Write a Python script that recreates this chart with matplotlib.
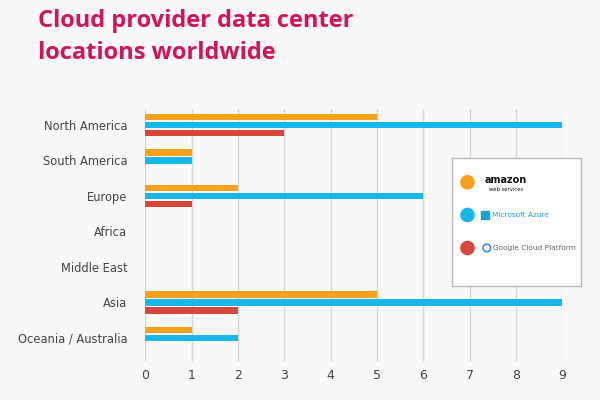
import matplotlib.pyplot as plt
import numpy as np

regions = ["North America", "South America", "Europe", "Africa",
           "Middle East", "Asia", "Oceania / Australia"]
aws = [5, 1, 2, 0, 0, 5, 1]
azure = [9, 1, 6, 0, 0, 9, 2]
google = [3, 0, 1, 0, 0, 2, 0]
colors = ["#f7a11a", "#17b7ea", "#d8473b"]

bg = "#f8f8f8"
fig = plt.figure(figsize=(6, 4), dpi=100, facecolor=bg)
ax = fig.add_axes([0.242, 0.0975, 0.695, 0.63], facecolor=bg)

y = np.arange(len(regions))
off = 0.225
h = 0.19
for i, vals in enumerate([aws, azure, google]):
    ax.barh(y + (i - 1) * off, vals, height=h, color=colors[i], zorder=3)

ax.set_xlim(0, 9)
ax.set_ylim(6.65, -0.45)
ax.set_xticks(range(10))
ax.set_yticks(y)
ax.set_yticklabels(regions)
ax.tick_params(length=0, labelsize=9, labelcolor="#444444")
ax.tick_params(axis="y", pad=13, labelsize=8.3)
ax.tick_params(axis="x", pad=6)
ax.grid(axis="x", color="#d6d6d6", linewidth=1, zorder=0)
for s in ax.spines.values():
    s.set_visible(False)

fig.text(0.063, 0.978, "Cloud provider data center\nlocations worldwide",
         color="#d4145a", fontsize=17, fontweight="bold", family="Open Sans",
         va="top", linespacing=1.45)

# legend box with provider "logos"
lg = fig.add_axes([452 / 600, 1 - 286 / 400, 129 / 600, 128 / 400], facecolor="white")
lg.set_xlim(0, 1)
lg.set_ylim(0, 1)
lg.set_xticks([])
lg.set_yticks([])
for s in lg.spines.values():
    s.set_color("#bbbbbb")
    s.set_linewidth(1)
ly = [0.81, 0.555, 0.297]
lg.scatter([0.12] * 3, ly, s=90, c=colors, zorder=3)
lg.text(0.25, ly[0] + 0.02, "amazon", fontsize=7, fontweight="bold", color="#111111",
        va="center")
lg.text(0.29, ly[0] - 0.055, "web services", fontsize=3.8, color="#111111", va="center")
lg.scatter([0.255], [ly[1]], s=30, marker="s", c="#17a3d9")
lg.text(0.31, ly[1], "Microsoft Azure", fontsize=5.3, color="#17a3d9", va="center")
lg.scatter([0.27], [ly[2]], s=30, marker="o", facecolors="none",
           edgecolors="#4a86e8", linewidths=1.2)
lg.text(0.32, ly[2], "Google Cloud Platform", fontsize=5.3, color="#666666", va="center")

fig.savefig("out.png", dpi=100, facecolor=bg)
